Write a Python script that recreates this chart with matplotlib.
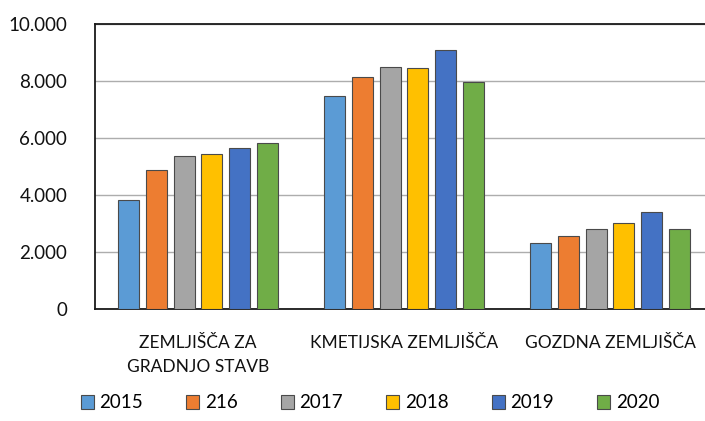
import matplotlib.pyplot as plt
import numpy as np

plt.rcParams['font.family'] = ['Lato', 'DejaVu Sans']

# Categories and series
categories = ['ZEMLJIŠČA ZA\nGRADNJO STAVB', 'KMETIJSKA ZEMLJIŠČA', 'GOZDNA ZEMLJIŠČA']
years = ['2015', '216', '2017', '2018', '2019', '2020']
values = {
    '2015': [3820, 7460, 2300],
    '216': [4860, 8140, 2570],
    '2017': [5380, 8500, 2800],
    '2018': [5430, 8440, 3010],
    '2019': [5640, 9090, 3400],
    '2020': [5810, 7950, 2800],
}
colors = ['#5B9BD5', '#ED7D31', '#A5A5A5', '#FFC000', '#4472C4', '#70AD47']
yticks = [0, 2000, 4000, 6000, 8000, 10000]
ytick_labels = ['0', '2.000', '4.000', '6.000', '8.000', '10.000']

fig = plt.figure(figsize=(7.05, 4.21), dpi=100)
# axes runs slightly past the right edge, like the cropped original
ax = fig.add_axes([95 / 705, 1 - 309 / 421, 618 / 705, 285 / 421])

x = np.arange(len(categories))
pitch = 0.1345
width = 0.103
for i, (yr, c) in enumerate(zip(years, colors)):
    offs = (i - 2.5) * pitch
    ax.bar(x + offs, values[yr], width, color=c, edgecolor='#4a4a4a',
           linewidth=0.8, label=yr, zorder=3)

ax.set_xlim(-0.5, 2.5)
ax.set_ylim(0, 10000)
ax.set_yticks(yticks)
ax.set_yticklabels(ytick_labels, fontsize=13.5, color='#111111')
ax.set_xticks(x)
ax.set_xticklabels(categories, fontsize=12.5, color='#111111', linespacing=1.55)
ax.tick_params(axis='y', length=0, pad=20)
ax.tick_params(axis='x', length=0, pad=19)
ax.grid(axis='y', color='#ADADAD', linewidth=1, zorder=0)
for s in ['top', 'left', 'bottom', 'right']:
    ax.spines[s].set_color('#1a1a1a')
    ax.spines[s].set_linewidth(1.3)

fig.legend(loc='center', bbox_to_anchor=(370 / 705, 1 - 403 / 421), ncol=6,
           frameon=False, fontsize=13.5, handlelength=0.7, handleheight=0.7,
           handletextpad=0.3, columnspacing=2.3)

plt.savefig('out.png', dpi=100)
